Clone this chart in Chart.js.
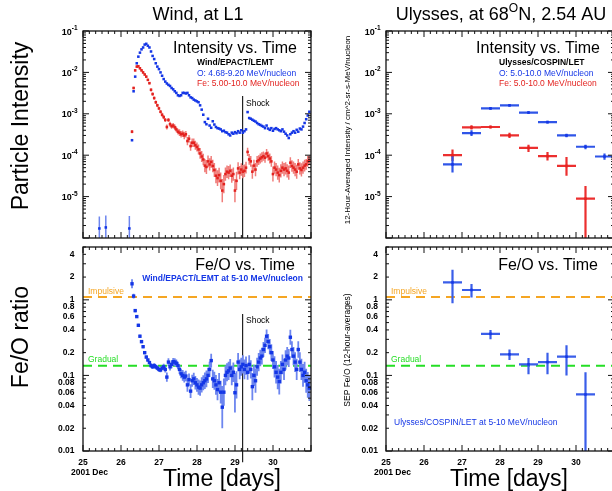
<!DOCTYPE html>
<html>
<head>
<meta charset="utf-8">
<script src="https://cdn.jsdelivr.net/npm/chart.js@4.4.1/dist/chart.umd.min.js"></script>
<style>
html, body { margin: 0; padding: 0; background: #fff; overflow: hidden; width: 612px; height: 491px; position: relative; }
canvas { position: absolute; }
</style>
</head>
<body>
<canvas id="tl" width="330" height="245" style="left:0;top:0;width:330px;height:245px"></canvas>
<canvas id="tr" width="290" height="245" style="left:330px;top:0;width:290px;height:245px"></canvas>
<canvas id="bl" width="330" height="251" style="left:0;top:240px;width:330px;height:251px"></canvas>
<canvas id="br" width="290" height="251" style="left:330px;top:240px;width:290px;height:251px"></canvas>
<script>
'use strict';
// ── Wind/EPACT/LEMT, hourly samples from 26 Dec ~07:00 (day-of-month units)
const windStart = 26.29;
const windO = [
  2.3e-4, 3.5e-3, 7.9e-3, 1.66e-2, 2.4e-2, 3.0e-2, 3.6e-2, 4.0e-2, 4.7e-2, 4.9e-2,
  4.4e-2, 4.0e-2, 3.2e-2, 2.5e-2, 2.1e-2, 1.66e-2, 1.38e-2, 1.2e-2, 1.0e-2, 8.3e-3,
  6.9e-3, 6.0e-3, 5.4e-3, 5.0e-3, 4.7e-3, 4.2e-3, 3.9e-3, 3.5e-3, 3.2e-3, 2.8e-3,
  2.7e-3, 2.8e-3, 3.2e-3, 3.2e-3, 3.1e-3, 3.2e-3, 2.8e-3, 2.5e-3, 2.4e-3, 2.2e-3,
  2.1e-3, 2.0e-3, 1.9e-3, 1.6e-3, 1.26e-3, 9.5e-4, 6.3e-4, 5.6e-4, 7.6e-4, 5.2e-4,
  4.6e-4, 6.6e-4, 5.5e-4, 4.8e-4, 4.5e-4, 4.4e-4, 4.2e-4, 3.8e-4, 3.9e-4, 3.6e-4,
  3.5e-4, 3.2e-4, 3.0e-4, 3.5e-4, 3.3e-4, 3.6e-4, 3.4e-4, 3.8e-4, 3.5e-4, 4.0e-4,
  3.5e-4, 3.8e-4, 4.2e-4, 1.1e-3, 7.9e-4, 7.6e-4, 7.2e-4, 6.8e-4, 6.5e-4, 6.0e-4,
  5.6e-4, 5.4e-4, 5.1e-4, 4.9e-4, 4.5e-4, 5.2e-4, 4.4e-4, 4.1e-4, 4.5e-4, 3.9e-4,
  4.3e-4, 4.5e-4, 4.2e-4, 4.0e-4, 3.8e-4, 4.2e-4, 3.7e-4, 3.3e-4, 3.0e-4, 2.6e-4,
  3.2e-4, 3.5e-4, 3.8e-4, 3.5e-4, 4.1e-4, 3.7e-4, 4.4e-4, 4.2e-4, 4.9e-4, 6.0e-4,
  7.4e-4, 9.1e-4, 1.12e-3
];
const windFe = [
  3.7e-4, 4.2e-3, 1.12e-2, 1.38e-2, 1.41e-2, 1.26e-2, 1.12e-2, 1.0e-2, 8.9e-3, 7.9e-3,
  6.6e-3, 5.5e-3, 3.8e-3, 3.0e-3, 2.4e-3, 1.9e-3, 1.6e-3, 1.35e-3, 1.12e-3, 9.5e-4,
  8.3e-4, 7.1e-4, 4.8e-4, 7.1e-4, 5.6e-4, 5.0e-4, 5.2e-4, 4.7e-4, 4.2e-4, 3.7e-4,
  3.5e-4, 3.2e-4, 3.3e-4, 3.0e-4, 3.2e-4, 2.2e-4, 2.5e-4, 1.66e-4, 2.0e-4, 2.0e-4,
  1.74e-4, 1.58e-4, 1.38e-4, 1.1e-4, 9.3e-5, 7.9e-5, 5.6e-5, 5.2e-5, 7.1e-5, 6.0e-5,
  6.9e-5, 5.5e-5, 4.4e-5, 3.2e-5, 2.8e-5, 3.3e-5, 2.4e-5, 1.4e-5, 2.0e-5, 3.5e-5,
  4.0e-5, 3.8e-5, 4.2e-5, 3.2e-5, 3.5e-5, 1.4e-5, 2.4e-5, 4.8e-5, 3.8e-5, 4.5e-5,
  4.0e-5, 4.2e-5, 5.0e-5, 1.2e-4, 7.9e-5, 7.1e-5, 4.0e-5, 5.6e-5, 4.5e-5, 7.1e-5,
  7.6e-5, 8.3e-5, 8.9e-5, 9.5e-5, 8.7e-5, 1.1e-4, 9.5e-5, 8.3e-5, 7.1e-5, 3.5e-5,
  5.0e-5, 4.5e-5, 3.8e-5, 3.3e-5, 4.2e-5, 5.0e-5, 4.5e-5, 4.8e-5, 4.2e-5, 3.8e-5,
  6.6e-5, 5.5e-5, 5.0e-5, 4.5e-5, 4.0e-5, 6.0e-5, 4.8e-5, 4.4e-5, 5.0e-5, 5.6e-5,
  6.0e-5, 7.1e-5, 7.6e-5
];
// half-length of the Fe error bars, in decades
const windFeErr = [
  0.04, 0.03, 0.03, 0.03, 0.03, 0.03, 0.03, 0.03, 0.03, 0.03,
  0.03, 0.03, 0.04, 0.04, 0.04, 0.04, 0.04, 0.04, 0.04, 0.05,
  0.05, 0.05, 0.06, 0.05, 0.06, 0.06, 0.06, 0.07, 0.07, 0.07,
  0.08, 0.08, 0.08, 0.09, 0.08, 0.10, 0.09, 0.11, 0.10, 0.10,
  0.11, 0.11, 0.12, 0.13, 0.13, 0.14, 0.16, 0.17, 0.14, 0.15,
  0.14, 0.15, 0.17, 0.18, 0.19, 0.18, 0.20, 0.28, 0.22, 0.16,
  0.15, 0.16, 0.15, 0.17, 0.16, 0.28, 0.22, 0.15, 0.16, 0.15,
  0.16, 0.15, 0.14, 0.10, 0.13, 0.13, 0.17, 0.14, 0.16, 0.13,
  0.12, 0.12, 0.12, 0.11, 0.12, 0.11, 0.11, 0.12, 0.13, 0.18,
  0.15, 0.16, 0.17, 0.18, 0.16, 0.15, 0.16, 0.15, 0.16, 0.17,
  0.13, 0.14, 0.15, 0.16, 0.17, 0.13, 0.15, 0.16, 0.15, 0.14,
  0.13, 0.13, 0.12
];
const windRatio = [
  1.63, 1.12, 0.72, 0.60, 0.46, 0.33, 0.28, 0.24, 0.20, 0.175,
  0.16, 0.148, 0.135, 0.13, 0.135, 0.13, 0.125, 0.12, 0.118, 0.125,
  0.13, 0.12, 0.095, 0.15, 0.13, 0.14, 0.152, 0.15, 0.145, 0.135,
  0.12, 0.105, 0.10, 0.095, 0.098, 0.075, 0.088, 0.062, 0.085, 0.09,
  0.08, 0.075, 0.07, 0.068, 0.075, 0.08, 0.085, 0.09, 0.10, 0.12,
  0.157, 0.09, 0.085, 0.075, 0.065, 0.08, 0.06, 0.038, 0.06, 0.10,
  0.11, 0.115, 0.125, 0.10, 0.11, 0.059, 0.075, 0.15, 0.12, 0.13,
  0.14, 0.12, 0.135, 0.11, 0.14, 0.12, 0.071, 0.10, 0.085, 0.13,
  0.15, 0.17, 0.18, 0.22, 0.25, 0.33, 0.28, 0.24, 0.20, 0.16,
  0.13, 0.11, 0.095, 0.083, 0.11, 0.14, 0.12, 0.16, 0.18, 0.17,
  0.32, 0.22, 0.18, 0.15, 0.12, 0.22, 0.15, 0.12, 0.10, 0.11,
  0.085, 0.075, 0.068
];
const windRatioErr = [
  0.06, 0.03, 0.02, 0.02, 0.02, 0.02, 0.02, 0.02, 0.02, 0.02,
  0.02, 0.02, 0.03, 0.03, 0.03, 0.03, 0.03, 0.03, 0.03, 0.03,
  0.04, 0.04, 0.06, 0.05, 0.05, 0.05, 0.05, 0.05, 0.05, 0.05,
  0.06, 0.06, 0.07, 0.07, 0.07, 0.09, 0.08, 0.09, 0.08, 0.08,
  0.09, 0.09, 0.10, 0.10, 0.10, 0.10, 0.11, 0.11, 0.10, 0.10,
  0.09, 0.12, 0.12, 0.13, 0.14, 0.13, 0.15, 0.28, 0.18, 0.13,
  0.12, 0.12, 0.12, 0.13, 0.13, 0.26, 0.18, 0.12, 0.13, 0.12,
  0.12, 0.13, 0.12, 0.10, 0.12, 0.12, 0.18, 0.14, 0.16, 0.12,
  0.12, 0.11, 0.11, 0.10, 0.10, 0.09, 0.10, 0.10, 0.11, 0.12,
  0.14, 0.15, 0.16, 0.17, 0.15, 0.13, 0.14, 0.13, 0.12, 0.12,
  0.10, 0.11, 0.12, 0.13, 0.14, 0.11, 0.13, 0.14, 0.15, 0.14,
  0.16, 0.17, 0.17
];
// three lone O counts before the event
const windEarlyT = [25.43, 25.60, 26.22];
const windEarlyO = [1.7e-6, 1.8e-6, 1.7e-6];
const windEarlyHi = [3.3e-6, 3.5e-6, 3.4e-6];

// ── Ulysses/COSPIN/LET, 12-hour averages
const ulyT = [26.75, 27.25, 27.75, 28.25, 28.75, 29.25, 29.75, 30.25, 30.75];
const ulyO = [6.0e-5, 3.4e-4, 1.35e-3, 1.6e-3, 1.07e-3, 6.3e-4, 3.0e-4, 1.6e-4, 9.3e-5];
const ulyOLo = [3.8e-5, 2.9e-4, 1.25e-3, 1.5e-3, 1.0e-3, 5.8e-4, 2.7e-4, 1.4e-4, 7.8e-5];
const ulyOHi = [9.5e-5, 4.0e-4, 1.45e-3, 1.7e-3, 1.15e-3, 6.8e-4, 3.3e-4, 1.8e-4, 1.1e-4];
const ulyFe = [1.0e-4, 4.7e-4, 4.8e-4, 3.0e-4, 1.5e-4, 9.5e-5, 5.5e-5, 8.9e-6];
const ulyFeLo = [7.2e-5, 4.2e-4, 4.4e-4, 2.6e-4, 1.2e-4, 7.4e-5, 3.2e-5, 1e-7];
const ulyFeHi = [1.38e-4, 5.3e-4, 5.2e-4, 3.5e-4, 1.8e-4, 1.2e-4, 9.0e-5, 1.8e-5];
const ulyRatio = [1.7, 1.35, 0.355, 0.19, 0.14, 0.15, 0.177, 0.056];
const ulyRatioLo = [0.9, 1.07, 0.30, 0.16, 0.104, 0.104, 0.10, 0.005];
const ulyRatioHi = [2.5, 1.62, 0.40, 0.22, 0.17, 0.20, 0.25, 0.11];

const shockT = 29.2;
const impulsive = 1.09, gradual = 0.134;
const dayTicks = [25, 26, 27, 28, 29, 30];
const ratioTicks = [4, 2, 1, 0.8, 0.6, 0.4, 0.2, 0.1, 0.08, 0.06, 0.04, 0.02, 0.01];
const expTicks = [-1, -2, -3, -4, -5];

const F = "'Liberation Sans', Arial, Helvetica, sans-serif";
const BLUE = '#1436e6', BLUE_L = '#6d86ef', RED = '#e3221f', RED_L = '#f07d7a';
const ORANGE = '#f5a623', GREEN = '#25de25';

const windT = windO.map((_, i) => windStart + i / 24);
const pts = (ts, vs) => vs.map((v, i) => ({x: ts[i], y: v}));
function vBars(ts, lo, hi) {
  const out = [];
  ts.forEach((t, i) => { if (lo[i] === undefined) return; out.push({x: t, y: lo[i]}, {x: t, y: hi[i]}, {x: t, y: null}); });
  return out;
}
function hBars(ts, vs, half) {
  const out = [];
  vs.forEach((v, i) => out.push({x: ts[i] - half, y: v}, {x: ts[i] + half, y: v}, {x: ts[i], y: null}));
  return out;
}
const dex = (vs, e, s) => vs.map((v, i) => v * Math.pow(10, s * e[i]));

const dots = (data, color, r) => ({data, backgroundColor: color, borderWidth: 0, pointStyle: 'rect', pointRadius: r});
const bars = (data, color, w) => ({data, showLine: true, spanGaps: false, borderColor: color, borderWidth: w, pointRadius: 0});
const hline = (v, color) => ({data: [{x: 25, y: v}, {x: 31, y: v}], showLine: true, borderColor: color, borderWidth: 2, borderDash: [9, 6], pointRadius: 0});

// text items: [text, x, y (page coords), font, colour, align, rotated]
const panels = {
  tl: {ox: 0, oy: 0, exp: true, labelRight: 77.5, texts: [
    ['Wind, at L1', 198, 15, `18px ${F}`, '#000', 'center'],
    ['Particle Intensity', 22, 126, `23px ${F}`, '#000', 'center', true],
    ['Intensity vs. Time', 297, 49, `16px ${F}`, '#000', 'right'],
    ['Wind/EPACT/LEMT', 197, 63, `bold 8.5px ${F}`, '#000', 'left'],
    ['O: 4.68-9.20 MeV/nucleon', 197, 74, `8.5px ${F}`, BLUE, 'left'],
    ['Fe: 5.00-10.0 MeV/nucleon', 197, 84, `8.5px ${F}`, RED, 'left'],
    ['Shock', 246, 104, `8.5px ${F}`, '#000', 'left']
  ]},
  tr: {ox: 330, oy: 0, exp: true, labelRight: 380.5, texts: [
    {parts: [['Ulysses, at 68', `18px ${F}`, 0], ['O', `12px ${F}`, -6], ['N, 2.54 AU', `18px ${F}`, 0]], x: 501, y: 15},
    ['12-Hour-Averaged Intensity / cm^2-sr-s-MeV/nucleon', 348, 130, `8px ${F}`, '#000', 'center', true],
    ['Intensity vs. Time', 600, 49, `16px ${F}`, '#000', 'right'],
    ['Ulysses/COSPIN/LET', 499, 63, `bold 8.5px ${F}`, '#000', 'left'],
    ['O: 5.0-10.0 MeV/nucleon', 499, 74, `8.5px ${F}`, BLUE, 'left'],
    ['Fe: 5.0-10.0 MeV/nucleon', 499, 84, `8.5px ${F}`, RED, 'left']
  ]},
  bl: {ox: 0, oy: 240, exp: false, days: true, decX: 71, labelRight: 74.5, texts: [
    ['Fe/O ratio', 22, 337, `23px ${F}`, '#000', 'center', true],
    ['Fe/O vs. Time', 295, 266, `16px ${F}`, '#000', 'right'],
    ['Wind/EPACT/LEMT at 5-10 MeV/nucleon', 303, 279, `bold 8.5px ${F}`, BLUE, 'right'],
    ['Impulsive', 88, 292, `8.5px ${F}`, ORANGE, 'left'],
    ['Gradual', 88, 360, `8.5px ${F}`, GREEN, 'left'],
    ['Shock', 246, 321, `8.5px ${F}`, '#000', 'left'],
    ['Time [days]', 222, 480, `23px ${F}`, '#000', 'center']
  ]},
  br: {ox: 330, oy: 240, exp: false, days: true, decX: 374, labelRight: 378, texts: [
    ['SEP Fe/O (12-hour-averages)', 348, 350, `8.5px ${F}`, '#000', 'center', true],
    ['Fe/O vs. Time', 598, 266, `16px ${F}`, '#000', 'right'],
    ['Impulsive', 391, 292, `8.5px ${F}`, ORANGE, 'left'],
    ['Gradual', 391, 360, `8.5px ${F}`, GREEN, 'left'],
    ['Ulysses/COSPIN/LET at 5-10 MeV/nucleon', 394, 423, `8.5px ${F}`, BLUE, 'left'],
    ['Time [days]', 509, 480, `23px ${F}`, '#000', 'center']
  ]}
};

// frame with inward ticks on all four sides, tick labels and free text (IDL look)
const panelPlugin = {
  id: 'panel',
  afterDatasetsDraw(chart) {
    const cfg = panels[chart.canvas.id];
    const {ctx, chartArea: a} = chart, xs = chart.scales.x, ys = chart.scales.y;
    ctx.save();
    ctx.strokeStyle = '#111'; ctx.lineWidth = 1.3;
    ctx.strokeRect(a.left, a.top, a.right - a.left, a.bottom - a.top);
    ctx.lineWidth = 1; ctx.beginPath();
    for (let i = 0; i <= 36; i++) {
      const px = xs.getPixelForValue(25 + i / 6), len = i % 6 ? 3 : 6;
      ctx.moveTo(px, a.bottom); ctx.lineTo(px, a.bottom - len);
      ctx.moveTo(px, a.top); ctx.lineTo(px, a.top + len);
    }
    const e0 = Math.floor(Math.log10(ys.min)), e1 = Math.ceil(Math.log10(ys.max));
    for (let e = e0; e <= e1; e++) for (let m = 1; m < 10; m++) {
      const v = m * Math.pow(10, e);
      if (v < ys.min * 0.999 || v > ys.max * 1.001) continue;
      const py = ys.getPixelForValue(v), len = m === 1 ? 6 : 3;
      ctx.moveTo(a.left, py); ctx.lineTo(a.left + len, py);
      ctx.moveTo(a.right, py); ctx.lineTo(a.right - len, py);
    }
    ctx.stroke();

    ctx.fillStyle = '#000';
    const xr = cfg.labelRight - cfg.ox;
    if (cfg.exp) {
      ctx.textAlign = 'left'; ctx.textBaseline = 'alphabetic';
      expTicks.forEach(e => {
        const py = ys.getPixelForValue(Math.pow(10, e));
        ctx.font = `bold 6.5px ${F}`;
        const w2 = ctx.measureText(String(e)).width;
        ctx.fillText(String(e), xr - w2, py - 1);
        ctx.font = `bold 9px ${F}`;
        ctx.fillText('10', xr - w2 - ctx.measureText('10').width, py + 3.5);
      });
    } else {
      ctx.textAlign = 'right'; ctx.textBaseline = 'middle'; ctx.font = `bold 8.5px ${F}`;
      ratioTicks.forEach(v => ctx.fillText(String(v), xr, ys.getPixelForValue(v)));
    }
    if (cfg.days) {
      ctx.textAlign = 'center'; ctx.textBaseline = 'middle'; ctx.font = `bold 8.5px ${F}`;
      dayTicks.forEach(d => ctx.fillText(String(d), xs.getPixelForValue(d), 463 - cfg.oy));
      ctx.textAlign = 'left';
      ctx.fillText('2001 Dec', cfg.decX - cfg.ox, 473 - cfg.oy);
    }

    ctx.textBaseline = 'middle';
    cfg.texts.forEach(t => {
      if (t.parts) {
        let w = 0;
        t.parts.forEach(p => { ctx.font = p[1]; w += ctx.measureText(p[0]).width; });
        let x = t.x - cfg.ox - w / 2;
        ctx.textAlign = 'left'; ctx.fillStyle = '#000';
        t.parts.forEach(p => { ctx.font = p[1]; ctx.fillText(p[0], x, t.y - cfg.oy + p[2]); x += ctx.measureText(p[0]).width; });
        return;
      }
      const [s, x, y, font, color, align, rot] = t;
      ctx.font = font; ctx.fillStyle = color; ctx.textAlign = align;
      if (rot) {
        ctx.save(); ctx.translate(x - cfg.ox, y - cfg.oy); ctx.rotate(-Math.PI / 2);
        ctx.fillText(s, 0, 0); ctx.restore();
      } else {
        ctx.fillText(s, x - cfg.ox, y - cfg.oy);
      }
    });
    ctx.restore();
  }
};

function makeChart(id, pad, yMin, yMax, datasets) {
  return new Chart(document.getElementById(id), {
    type: 'scatter',
    data: {datasets},
    options: {
      responsive: false, animation: false, events: [],
      layout: {padding: pad},
      plugins: {legend: {display: false}, tooltip: {enabled: false}},
      scales: {
        x: {type: 'linear', display: false, min: 25, max: 31},
        y: {type: 'logarithmic', display: false, min: yMin, max: yMax}
      }
    },
    plugins: [panelPlugin]
  });
}

makeChart('tl', {left: 83, top: 31, right: 19, bottom: 7}, 1e-6, 1e-1, [
  dots(pts(windT, windO), BLUE, 1.8),
  dots(pts(windEarlyT, windEarlyO), BLUE, 1.8),
  dots(pts(windT, windFe), RED, 1.8),
  bars(vBars(windEarlyT, windEarlyO.map(() => 1e-7), windEarlyHi), BLUE_L, 1.5),
  bars(vBars(windT, dex(windFe, windFeErr, -1), dex(windFe, windFeErr, 1)), RED_L, 1.5),
  {data: [{x: shockT, y: 2.7e-3}, {x: shockT, y: 1e-6}], showLine: true, borderColor: '#222', borderWidth: 1.2, pointRadius: 0}
]);

makeChart('tr', {left: 56, top: 31, right: 6, bottom: 7}, 1e-6, 1e-1, [
  dots(pts(ulyT, ulyO), BLUE, 1.8),
  dots(pts(ulyT, ulyFe), RED, 1.8),
  bars(hBars(ulyT, ulyO, 0.25), '#2f55e8', 2.2),
  bars(vBars(ulyT, ulyOLo, ulyOHi), '#2f55e8', 2.2),
  bars(hBars(ulyT, ulyFe, 0.25), '#ec2f2f', 2.2),
  bars(vBars(ulyT, ulyFeLo, ulyFeHi), '#ec2f2f', 2.2)
]);

makeChart('bl', {left: 83, top: 7, right: 19, bottom: 40}, 0.01, 5, [
  dots(pts(windT, windRatio), BLUE, 2.4),
  bars(vBars(windT, dex(windRatio, windRatioErr, -1), dex(windRatio, windRatioErr, 1)), BLUE_L, 1.8),
  hline(impulsive, ORANGE),
  hline(gradual, GREEN),
  {data: [{x: shockT, y: 0.65}, {x: shockT, y: 0.0071}], showLine: true, borderColor: '#222', borderWidth: 1.2, pointRadius: 0, clip: false}
]);

makeChart('br', {left: 56, top: 7, right: 6, bottom: 40}, 0.01, 5, [
  dots(pts(ulyT, ulyRatio), BLUE, 1.8),
  bars(hBars(ulyT, ulyRatio, 0.25), '#3a5ee9', 2.2),
  bars(vBars(ulyT, ulyRatioLo, ulyRatioHi), '#3a5ee9', 2.2),
  hline(impulsive, ORANGE),
  hline(gradual, GREEN)
]);
</script>
</body>
</html>
